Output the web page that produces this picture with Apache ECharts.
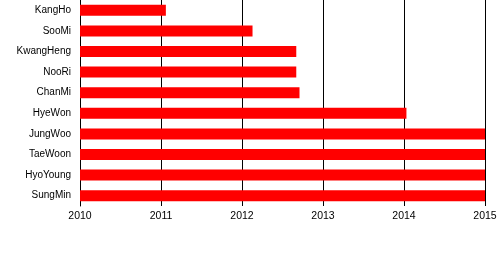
<!DOCTYPE html>
<html><head><meta charset="utf-8">
<script src="https://cdn.jsdelivr.net/npm/echarts@6/dist/echarts.min.js"></script>
<style>html,body{margin:0;padding:0;background:#fff}#c{width:500px;height:265px}</style>
</head><body><div id="c"></div>
<script>
const categories = ["KangHo","SooMi","KwangHeng","NooRi","ChanMi","HyeWon","JungWoo","TaeWoon","HyoYoung","SungMin"];
const values = [2011.06, 2012.13, 2012.67, 2012.67, 2012.71, 2014.03, 2015, 2015, 2015, 2015];
const xTicks = [2010, 2011, 2012, 2013, 2014, 2015];

const chart = echarts.init(document.getElementById('c'));
chart.setOption({
  animation: false,
  backgroundColor: '#fff',
  grid: {left: 80, right: 15, top: -4, bottom: 59, containLabel: false},
  xAxis: {
    type: 'value', min: xTicks[0], max: xTicks[xTicks.length-1], interval: 1,
    axisLine: {show: false}, axisTick: {show: false},
    splitLine: {show: true, lineStyle: {color: '#000', width: 1}},
    axisLabel: {color: '#000', fontSize: 10.5, fontFamily: 'Liberation Sans', margin: 5,
      formatter: function (v) { return String(v); }}
  },
  yAxis: {
    type: 'category', data: categories, inverse: true,
    axisLine: {show: true, lineStyle: {color: '#000', width: 1}},
    axisTick: {show: false},
    axisLabel: {color: '#000', fontSize: 10, fontFamily: 'Liberation Sans', margin: 9}
  },
  series: [{
    type: 'bar', data: values, barWidth: 11,
    itemStyle: {color: '#ff0000'}
  }]
});
</script></body></html>
